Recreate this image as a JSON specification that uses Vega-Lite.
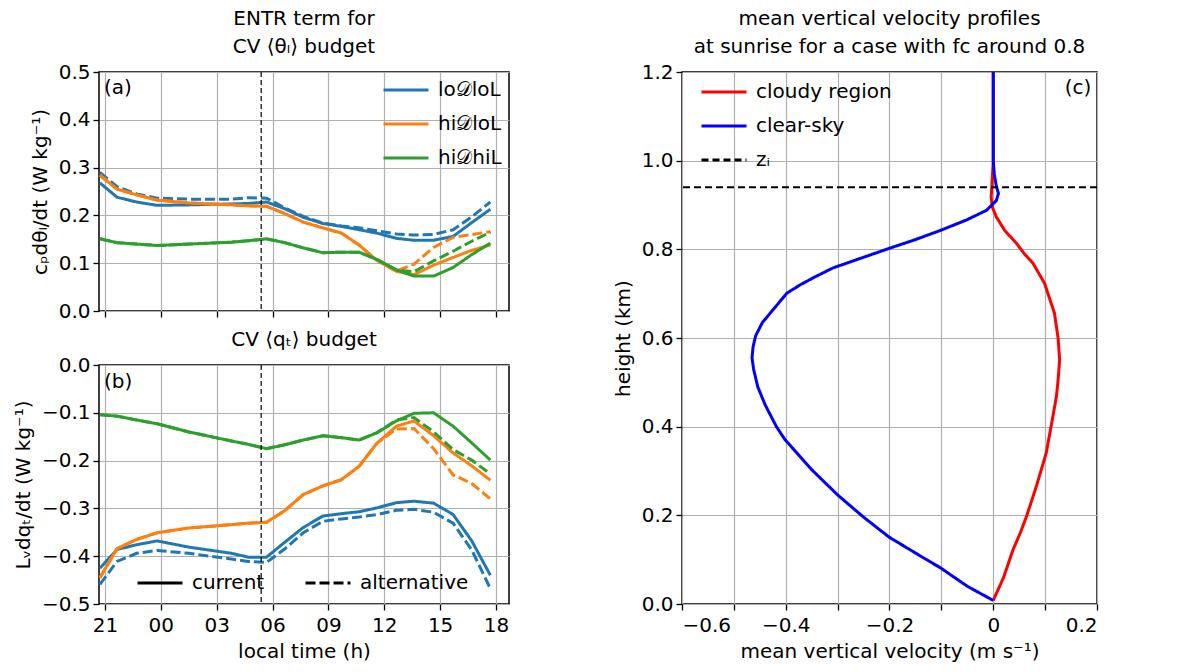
{
  "$schema": "https://vega.github.io/schema/vega-lite/v6.json",
  "padding": {"left": 12, "top": 8, "right": 5, "bottom": 5},
  "config": {
    "font": "DejaVu Sans",
    "view": {"stroke": "black", "strokeWidth": 1.5},
    "axis": {
      "domain": false,
      "tickColor": "black", "tickSize": 6, "tickWidth": 1.3,
      "labelFont": "DejaVu Sans", "labelFontSize": 20, "labelColor": "black",
      "titleFont": "DejaVu Sans", "titleFontSize": 20, "titleFontWeight": "normal", "titleColor": "black",
      "gridColor": "#b0b0b0", "gridWidth": 1.2, "labelPadding": 3
    },
    "legend": {"labelFont": "DejaVu Sans", "labelFontSize": 20, "labelColor": "black", "padding": 0},
    "title": {"font": "DejaVu Sans", "fontSize": 20, "fontWeight": "normal", "color": "black", "anchor": "middle", "offset": 5, "lineHeight": 28}
  },
  "datasets": {
    "ab": [
      {"p":"a","r":"lo𝒟loL","m":"current","t":-3.27,"v":0.268},{"p":"a","r":"lo𝒟loL","m":"current","t":-2.35,"v":0.238},{"p":"a","r":"lo𝒟loL","m":"current","t":-1.3,"v":0.228},{"p":"a","r":"lo𝒟loL","m":"current","t":-0.2,"v":0.221},{"p":"a","r":"lo𝒟loL","m":"current","t":1.5,"v":0.222},{"p":"a","r":"lo𝒟loL","m":"current","t":3.8,"v":0.224},{"p":"a","r":"lo𝒟loL","m":"current","t":4.7,"v":0.225},{"p":"a","r":"lo𝒟loL","m":"current","t":5.68,"v":0.228},{"p":"a","r":"lo𝒟loL","m":"current","t":6.65,"v":0.214},{"p":"a","r":"lo𝒟loL","m":"current","t":7.65,"v":0.196},{"p":"a","r":"lo𝒟loL","m":"current","t":8.7,"v":0.183},{"p":"a","r":"lo𝒟loL","m":"current","t":9.7,"v":0.177},{"p":"a","r":"lo𝒟loL","m":"current","t":10.65,"v":0.170},{"p":"a","r":"lo𝒟loL","m":"current","t":11.6,"v":0.163},{"p":"a","r":"lo𝒟loL","m":"current","t":12.65,"v":0.152},{"p":"a","r":"lo𝒟loL","m":"current","t":13.6,"v":0.148},{"p":"a","r":"lo𝒟loL","m":"current","t":14.65,"v":0.148},{"p":"a","r":"lo𝒟loL","m":"current","t":15.7,"v":0.156},{"p":"a","r":"lo𝒟loL","m":"current","t":16.7,"v":0.185},{"p":"a","r":"lo𝒟loL","m":"current","t":17.7,"v":0.213},
      {"p":"a","r":"lo𝒟loL","m":"alternative","t":-3.27,"v":0.290},{"p":"a","r":"lo𝒟loL","m":"alternative","t":-2.35,"v":0.260},{"p":"a","r":"lo𝒟loL","m":"alternative","t":-1.3,"v":0.245},{"p":"a","r":"lo𝒟loL","m":"alternative","t":-0.2,"v":0.236},{"p":"a","r":"lo𝒟loL","m":"alternative","t":1.5,"v":0.234},{"p":"a","r":"lo𝒟loL","m":"alternative","t":3.8,"v":0.234},{"p":"a","r":"lo𝒟loL","m":"alternative","t":4.7,"v":0.237},{"p":"a","r":"lo𝒟loL","m":"alternative","t":5.68,"v":0.236},{"p":"a","r":"lo𝒟loL","m":"alternative","t":6.65,"v":0.216},{"p":"a","r":"lo𝒟loL","m":"alternative","t":7.65,"v":0.198},{"p":"a","r":"lo𝒟loL","m":"alternative","t":8.7,"v":0.184},{"p":"a","r":"lo𝒟loL","m":"alternative","t":9.7,"v":0.178},{"p":"a","r":"lo𝒟loL","m":"alternative","t":10.65,"v":0.174},{"p":"a","r":"lo𝒟loL","m":"alternative","t":11.6,"v":0.168},{"p":"a","r":"lo𝒟loL","m":"alternative","t":12.65,"v":0.161},{"p":"a","r":"lo𝒟loL","m":"alternative","t":13.6,"v":0.159},{"p":"a","r":"lo𝒟loL","m":"alternative","t":14.65,"v":0.160},{"p":"a","r":"lo𝒟loL","m":"alternative","t":15.7,"v":0.170},{"p":"a","r":"lo𝒟loL","m":"alternative","t":16.7,"v":0.197},{"p":"a","r":"lo𝒟loL","m":"alternative","t":17.7,"v":0.228},
      {"p":"a","r":"hi𝒟loL","m":"current","t":-3.27,"v":0.284},{"p":"a","r":"hi𝒟loL","m":"current","t":-2.35,"v":0.255},{"p":"a","r":"hi𝒟loL","m":"current","t":-1.3,"v":0.243},{"p":"a","r":"hi𝒟loL","m":"current","t":-0.2,"v":0.232},{"p":"a","r":"hi𝒟loL","m":"current","t":1.5,"v":0.226},{"p":"a","r":"hi𝒟loL","m":"current","t":3.8,"v":0.222},{"p":"a","r":"hi𝒟loL","m":"current","t":4.7,"v":0.220},{"p":"a","r":"hi𝒟loL","m":"current","t":5.68,"v":0.219},{"p":"a","r":"hi𝒟loL","m":"current","t":6.65,"v":0.204},{"p":"a","r":"hi𝒟loL","m":"current","t":7.65,"v":0.186},{"p":"a","r":"hi𝒟loL","m":"current","t":8.7,"v":0.174},{"p":"a","r":"hi𝒟loL","m":"current","t":9.7,"v":0.163},{"p":"a","r":"hi𝒟loL","m":"current","t":10.65,"v":0.138},{"p":"a","r":"hi𝒟loL","m":"current","t":11.6,"v":0.106},{"p":"a","r":"hi𝒟loL","m":"current","t":12.65,"v":0.083},{"p":"a","r":"hi𝒟loL","m":"current","t":13.6,"v":0.076},{"p":"a","r":"hi𝒟loL","m":"current","t":14.65,"v":0.096},{"p":"a","r":"hi𝒟loL","m":"current","t":15.7,"v":0.112},{"p":"a","r":"hi𝒟loL","m":"current","t":16.7,"v":0.127},{"p":"a","r":"hi𝒟loL","m":"current","t":17.7,"v":0.138},
      {"p":"a","r":"hi𝒟loL","m":"alternative","t":-3.27,"v":0.284},{"p":"a","r":"hi𝒟loL","m":"alternative","t":-2.35,"v":0.255},{"p":"a","r":"hi𝒟loL","m":"alternative","t":-1.3,"v":0.243},{"p":"a","r":"hi𝒟loL","m":"alternative","t":-0.2,"v":0.232},{"p":"a","r":"hi𝒟loL","m":"alternative","t":1.5,"v":0.226},{"p":"a","r":"hi𝒟loL","m":"alternative","t":3.8,"v":0.222},{"p":"a","r":"hi𝒟loL","m":"alternative","t":4.7,"v":0.220},{"p":"a","r":"hi𝒟loL","m":"alternative","t":5.68,"v":0.219},{"p":"a","r":"hi𝒟loL","m":"alternative","t":6.65,"v":0.204},{"p":"a","r":"hi𝒟loL","m":"alternative","t":7.65,"v":0.186},{"p":"a","r":"hi𝒟loL","m":"alternative","t":8.7,"v":0.174},{"p":"a","r":"hi𝒟loL","m":"alternative","t":9.7,"v":0.163},{"p":"a","r":"hi𝒟loL","m":"alternative","t":10.65,"v":0.138},{"p":"a","r":"hi𝒟loL","m":"alternative","t":11.6,"v":0.106},{"p":"a","r":"hi𝒟loL","m":"alternative","t":12.65,"v":0.084},{"p":"a","r":"hi𝒟loL","m":"alternative","t":13.6,"v":0.098},{"p":"a","r":"hi𝒟loL","m":"alternative","t":14.65,"v":0.133},{"p":"a","r":"hi𝒟loL","m":"alternative","t":15.7,"v":0.154},{"p":"a","r":"hi𝒟loL","m":"alternative","t":16.7,"v":0.160},{"p":"a","r":"hi𝒟loL","m":"alternative","t":17.7,"v":0.166},
      {"p":"a","r":"hi𝒟hiL","m":"current","t":-3.27,"v":0.151},{"p":"a","r":"hi𝒟hiL","m":"current","t":-2.35,"v":0.143},{"p":"a","r":"hi𝒟hiL","m":"current","t":-1.3,"v":0.140},{"p":"a","r":"hi𝒟hiL","m":"current","t":-0.2,"v":0.137},{"p":"a","r":"hi𝒟hiL","m":"current","t":1.5,"v":0.140},{"p":"a","r":"hi𝒟hiL","m":"current","t":3.8,"v":0.144},{"p":"a","r":"hi𝒟hiL","m":"current","t":4.7,"v":0.147},{"p":"a","r":"hi𝒟hiL","m":"current","t":5.68,"v":0.151},{"p":"a","r":"hi𝒟hiL","m":"current","t":6.65,"v":0.143},{"p":"a","r":"hi𝒟hiL","m":"current","t":7.65,"v":0.132},{"p":"a","r":"hi𝒟hiL","m":"current","t":8.7,"v":0.122},{"p":"a","r":"hi𝒟hiL","m":"current","t":9.7,"v":0.123},{"p":"a","r":"hi𝒟hiL","m":"current","t":10.65,"v":0.123},{"p":"a","r":"hi𝒟hiL","m":"current","t":11.6,"v":0.108},{"p":"a","r":"hi𝒟hiL","m":"current","t":12.65,"v":0.086},{"p":"a","r":"hi𝒟hiL","m":"current","t":13.6,"v":0.073},{"p":"a","r":"hi𝒟hiL","m":"current","t":14.65,"v":0.073},{"p":"a","r":"hi𝒟hiL","m":"current","t":15.7,"v":0.091},{"p":"a","r":"hi𝒟hiL","m":"current","t":16.7,"v":0.118},{"p":"a","r":"hi𝒟hiL","m":"current","t":17.7,"v":0.142},
      {"p":"a","r":"hi𝒟hiL","m":"alternative","t":-3.27,"v":0.151},{"p":"a","r":"hi𝒟hiL","m":"alternative","t":-2.35,"v":0.143},{"p":"a","r":"hi𝒟hiL","m":"alternative","t":-1.3,"v":0.140},{"p":"a","r":"hi𝒟hiL","m":"alternative","t":-0.2,"v":0.137},{"p":"a","r":"hi𝒟hiL","m":"alternative","t":1.5,"v":0.140},{"p":"a","r":"hi𝒟hiL","m":"alternative","t":3.8,"v":0.144},{"p":"a","r":"hi𝒟hiL","m":"alternative","t":4.7,"v":0.147},{"p":"a","r":"hi𝒟hiL","m":"alternative","t":5.68,"v":0.151},{"p":"a","r":"hi𝒟hiL","m":"alternative","t":6.65,"v":0.143},{"p":"a","r":"hi𝒟hiL","m":"alternative","t":7.65,"v":0.132},{"p":"a","r":"hi𝒟hiL","m":"alternative","t":8.7,"v":0.122},{"p":"a","r":"hi𝒟hiL","m":"alternative","t":9.7,"v":0.123},{"p":"a","r":"hi𝒟hiL","m":"alternative","t":10.65,"v":0.123},{"p":"a","r":"hi𝒟hiL","m":"alternative","t":11.6,"v":0.108},{"p":"a","r":"hi𝒟hiL","m":"alternative","t":12.65,"v":0.086},{"p":"a","r":"hi𝒟hiL","m":"alternative","t":13.6,"v":0.082},{"p":"a","r":"hi𝒟hiL","m":"alternative","t":14.65,"v":0.105},{"p":"a","r":"hi𝒟hiL","m":"alternative","t":15.7,"v":0.125},{"p":"a","r":"hi𝒟hiL","m":"alternative","t":16.7,"v":0.146},{"p":"a","r":"hi𝒟hiL","m":"alternative","t":17.7,"v":0.165},
      {"p":"b","r":"lo𝒟loL","m":"current","t":-3.27,"v":-0.425},{"p":"b","r":"lo𝒟loL","m":"current","t":-2.35,"v":-0.386},{"p":"b","r":"lo𝒟loL","m":"current","t":-1.3,"v":-0.376},{"p":"b","r":"lo𝒟loL","m":"current","t":-0.2,"v":-0.368},{"p":"b","r":"lo𝒟loL","m":"current","t":1.5,"v":-0.381},{"p":"b","r":"lo𝒟loL","m":"current","t":3.8,"v":-0.394},{"p":"b","r":"lo𝒟loL","m":"current","t":4.7,"v":-0.402},{"p":"b","r":"lo𝒟loL","m":"current","t":5.68,"v":-0.402},{"p":"b","r":"lo𝒟loL","m":"current","t":6.65,"v":-0.371},{"p":"b","r":"lo𝒟loL","m":"current","t":7.65,"v":-0.340},{"p":"b","r":"lo𝒟loL","m":"current","t":8.7,"v":-0.316},{"p":"b","r":"lo𝒟loL","m":"current","t":9.7,"v":-0.311},{"p":"b","r":"lo𝒟loL","m":"current","t":10.65,"v":-0.307},{"p":"b","r":"lo𝒟loL","m":"current","t":11.6,"v":-0.299},{"p":"b","r":"lo𝒟loL","m":"current","t":12.65,"v":-0.288},{"p":"b","r":"lo𝒟loL","m":"current","t":13.6,"v":-0.285},{"p":"b","r":"lo𝒟loL","m":"current","t":14.65,"v":-0.289},{"p":"b","r":"lo𝒟loL","m":"current","t":15.7,"v":-0.313},{"p":"b","r":"lo𝒟loL","m":"current","t":16.7,"v":-0.368},{"p":"b","r":"lo𝒟loL","m":"current","t":17.7,"v":-0.440},
      {"p":"b","r":"lo𝒟loL","m":"alternative","t":-3.27,"v":-0.459},{"p":"b","r":"lo𝒟loL","m":"alternative","t":-2.35,"v":-0.411},{"p":"b","r":"lo𝒟loL","m":"alternative","t":-1.3,"v":-0.394},{"p":"b","r":"lo𝒟loL","m":"alternative","t":-0.2,"v":-0.388},{"p":"b","r":"lo𝒟loL","m":"alternative","t":1.5,"v":-0.394},{"p":"b","r":"lo𝒟loL","m":"alternative","t":3.8,"v":-0.406},{"p":"b","r":"lo𝒟loL","m":"alternative","t":4.7,"v":-0.411},{"p":"b","r":"lo𝒟loL","m":"alternative","t":5.68,"v":-0.413},{"p":"b","r":"lo𝒟loL","m":"alternative","t":6.65,"v":-0.385},{"p":"b","r":"lo𝒟loL","m":"alternative","t":7.65,"v":-0.351},{"p":"b","r":"lo𝒟loL","m":"alternative","t":8.7,"v":-0.327},{"p":"b","r":"lo𝒟loL","m":"alternative","t":9.7,"v":-0.322},{"p":"b","r":"lo𝒟loL","m":"alternative","t":10.65,"v":-0.318},{"p":"b","r":"lo𝒟loL","m":"alternative","t":11.6,"v":-0.313},{"p":"b","r":"lo𝒟loL","m":"alternative","t":12.65,"v":-0.304},{"p":"b","r":"lo𝒟loL","m":"alternative","t":13.6,"v":-0.302},{"p":"b","r":"lo𝒟loL","m":"alternative","t":14.65,"v":-0.308},{"p":"b","r":"lo𝒟loL","m":"alternative","t":15.7,"v":-0.331},{"p":"b","r":"lo𝒟loL","m":"alternative","t":16.7,"v":-0.387},{"p":"b","r":"lo𝒟loL","m":"alternative","t":17.7,"v":-0.468},
      {"p":"b","r":"hi𝒟loL","m":"current","t":-3.27,"v":-0.445},{"p":"b","r":"hi𝒟loL","m":"current","t":-2.35,"v":-0.384},{"p":"b","r":"hi𝒟loL","m":"current","t":-1.3,"v":-0.365},{"p":"b","r":"hi𝒟loL","m":"current","t":-0.2,"v":-0.351},{"p":"b","r":"hi𝒟loL","m":"current","t":1.5,"v":-0.341},{"p":"b","r":"hi𝒟loL","m":"current","t":3.8,"v":-0.334},{"p":"b","r":"hi𝒟loL","m":"current","t":4.7,"v":-0.331},{"p":"b","r":"hi𝒟loL","m":"current","t":5.68,"v":-0.329},{"p":"b","r":"hi𝒟loL","m":"current","t":6.65,"v":-0.305},{"p":"b","r":"hi𝒟loL","m":"current","t":7.65,"v":-0.271},{"p":"b","r":"hi𝒟loL","m":"current","t":8.7,"v":-0.253},{"p":"b","r":"hi𝒟loL","m":"current","t":9.7,"v":-0.240},{"p":"b","r":"hi𝒟loL","m":"current","t":10.65,"v":-0.212},{"p":"b","r":"hi𝒟loL","m":"current","t":11.6,"v":-0.164},{"p":"b","r":"hi𝒟loL","m":"current","t":12.65,"v":-0.128},{"p":"b","r":"hi𝒟loL","m":"current","t":13.6,"v":-0.117},{"p":"b","r":"hi𝒟loL","m":"current","t":14.65,"v":-0.148},{"p":"b","r":"hi𝒟loL","m":"current","t":15.7,"v":-0.184},{"p":"b","r":"hi𝒟loL","m":"current","t":16.7,"v":-0.211},{"p":"b","r":"hi𝒟loL","m":"current","t":17.7,"v":-0.241},
      {"p":"b","r":"hi𝒟loL","m":"alternative","t":-3.27,"v":-0.445},{"p":"b","r":"hi𝒟loL","m":"alternative","t":-2.35,"v":-0.384},{"p":"b","r":"hi𝒟loL","m":"alternative","t":-1.3,"v":-0.365},{"p":"b","r":"hi𝒟loL","m":"alternative","t":-0.2,"v":-0.351},{"p":"b","r":"hi𝒟loL","m":"alternative","t":1.5,"v":-0.341},{"p":"b","r":"hi𝒟loL","m":"alternative","t":3.8,"v":-0.334},{"p":"b","r":"hi𝒟loL","m":"alternative","t":4.7,"v":-0.331},{"p":"b","r":"hi𝒟loL","m":"alternative","t":5.68,"v":-0.329},{"p":"b","r":"hi𝒟loL","m":"alternative","t":6.65,"v":-0.305},{"p":"b","r":"hi𝒟loL","m":"alternative","t":7.65,"v":-0.271},{"p":"b","r":"hi𝒟loL","m":"alternative","t":8.7,"v":-0.253},{"p":"b","r":"hi𝒟loL","m":"alternative","t":9.7,"v":-0.240},{"p":"b","r":"hi𝒟loL","m":"alternative","t":10.65,"v":-0.212},{"p":"b","r":"hi𝒟loL","m":"alternative","t":11.6,"v":-0.164},{"p":"b","r":"hi𝒟loL","m":"alternative","t":12.65,"v":-0.134},{"p":"b","r":"hi𝒟loL","m":"alternative","t":13.6,"v":-0.133},{"p":"b","r":"hi𝒟loL","m":"alternative","t":14.65,"v":-0.175},{"p":"b","r":"hi𝒟loL","m":"alternative","t":15.7,"v":-0.230},{"p":"b","r":"hi𝒟loL","m":"alternative","t":16.7,"v":-0.248},{"p":"b","r":"hi𝒟loL","m":"alternative","t":17.7,"v":-0.280},
      {"p":"b","r":"hi𝒟hiL","m":"current","t":-3.27,"v":-0.104},{"p":"b","r":"hi𝒟hiL","m":"current","t":-2.35,"v":-0.107},{"p":"b","r":"hi𝒟hiL","m":"current","t":-1.3,"v":-0.115},{"p":"b","r":"hi𝒟hiL","m":"current","t":-0.2,"v":-0.123},{"p":"b","r":"hi𝒟hiL","m":"current","t":1.5,"v":-0.140},{"p":"b","r":"hi𝒟hiL","m":"current","t":3.8,"v":-0.159},{"p":"b","r":"hi𝒟hiL","m":"current","t":4.7,"v":-0.166},{"p":"b","r":"hi𝒟hiL","m":"current","t":5.68,"v":-0.175},{"p":"b","r":"hi𝒟hiL","m":"current","t":6.65,"v":-0.167},{"p":"b","r":"hi𝒟hiL","m":"current","t":7.65,"v":-0.157},{"p":"b","r":"hi𝒟hiL","m":"current","t":8.7,"v":-0.148},{"p":"b","r":"hi𝒟hiL","m":"current","t":9.7,"v":-0.152},{"p":"b","r":"hi𝒟hiL","m":"current","t":10.65,"v":-0.157},{"p":"b","r":"hi𝒟hiL","m":"current","t":11.6,"v":-0.142},{"p":"b","r":"hi𝒟hiL","m":"current","t":12.65,"v":-0.117},{"p":"b","r":"hi𝒟hiL","m":"current","t":13.6,"v":-0.101},{"p":"b","r":"hi𝒟hiL","m":"current","t":14.65,"v":-0.100},{"p":"b","r":"hi𝒟hiL","m":"current","t":15.7,"v":-0.128},{"p":"b","r":"hi𝒟hiL","m":"current","t":16.7,"v":-0.163},{"p":"b","r":"hi𝒟hiL","m":"current","t":17.7,"v":-0.199},
      {"p":"b","r":"hi𝒟hiL","m":"alternative","t":-3.27,"v":-0.104},{"p":"b","r":"hi𝒟hiL","m":"alternative","t":-2.35,"v":-0.107},{"p":"b","r":"hi𝒟hiL","m":"alternative","t":-1.3,"v":-0.115},{"p":"b","r":"hi𝒟hiL","m":"alternative","t":-0.2,"v":-0.123},{"p":"b","r":"hi𝒟hiL","m":"alternative","t":1.5,"v":-0.140},{"p":"b","r":"hi𝒟hiL","m":"alternative","t":3.8,"v":-0.159},{"p":"b","r":"hi𝒟hiL","m":"alternative","t":4.7,"v":-0.166},{"p":"b","r":"hi𝒟hiL","m":"alternative","t":5.68,"v":-0.175},{"p":"b","r":"hi𝒟hiL","m":"alternative","t":6.65,"v":-0.167},{"p":"b","r":"hi𝒟hiL","m":"alternative","t":7.65,"v":-0.157},{"p":"b","r":"hi𝒟hiL","m":"alternative","t":8.7,"v":-0.148},{"p":"b","r":"hi𝒟hiL","m":"alternative","t":9.7,"v":-0.152},{"p":"b","r":"hi𝒟hiL","m":"alternative","t":10.65,"v":-0.157},{"p":"b","r":"hi𝒟hiL","m":"alternative","t":11.6,"v":-0.142},{"p":"b","r":"hi𝒟hiL","m":"alternative","t":12.65,"v":-0.115},{"p":"b","r":"hi𝒟hiL","m":"alternative","t":13.6,"v":-0.110},{"p":"b","r":"hi𝒟hiL","m":"alternative","t":14.65,"v":-0.140},{"p":"b","r":"hi𝒟hiL","m":"alternative","t":15.7,"v":-0.177},{"p":"b","r":"hi𝒟hiL","m":"alternative","t":16.7,"v":-0.199},{"p":"b","r":"hi𝒟hiL","m":"alternative","t":17.7,"v":-0.228}
    ],
    "prof": [
      {"s":"cloudy region","w":0.000,"z":0.008},{"s":"cloudy region","w":0.020,"z":0.060},{"s":"cloudy region","w":0.038,"z":0.122},{"s":"cloudy region","w":0.052,"z":0.160},{"s":"cloudy region","w":0.064,"z":0.197},{"s":"cloudy region","w":0.083,"z":0.265},{"s":"cloudy region","w":0.102,"z":0.340},{"s":"cloudy region","w":0.115,"z":0.423},{"s":"cloudy region","w":0.122,"z":0.470},{"s":"cloudy region","w":0.125,"z":0.505},{"s":"cloudy region","w":0.128,"z":0.551},{"s":"cloudy region","w":0.125,"z":0.600},{"s":"cloudy region","w":0.118,"z":0.656},{"s":"cloudy region","w":0.099,"z":0.723},{"s":"cloudy region","w":0.077,"z":0.768},{"s":"cloudy region","w":0.060,"z":0.790},{"s":"cloudy region","w":0.045,"z":0.813},{"s":"cloudy region","w":0.022,"z":0.843},{"s":"cloudy region","w":0.006,"z":0.873},{"s":"cloudy region","w":-0.002,"z":0.896},{"s":"cloudy region","w":-0.004,"z":0.918},{"s":"cloudy region","w":-0.002,"z":0.956},{"s":"cloudy region","w":0.000,"z":1.000},{"s":"cloudy region","w":0.000,"z":1.200},
      {"s":"clear-sky","w":0.000,"z":0.008},{"s":"clear-sky","w":-0.050,"z":0.040},{"s":"clear-sky","w":-0.101,"z":0.081},{"s":"clear-sky","w":-0.150,"z":0.115},{"s":"clear-sky","w":-0.201,"z":0.151},{"s":"clear-sky","w":-0.250,"z":0.196},{"s":"clear-sky","w":-0.300,"z":0.246},{"s":"clear-sky","w":-0.350,"z":0.303},{"s":"clear-sky","w":-0.401,"z":0.370},{"s":"clear-sky","w":-0.418,"z":0.400},{"s":"clear-sky","w":-0.440,"z":0.450},{"s":"clear-sky","w":-0.454,"z":0.490},{"s":"clear-sky","w":-0.462,"z":0.530},{"s":"clear-sky","w":-0.465,"z":0.555},{"s":"clear-sky","w":-0.463,"z":0.580},{"s":"clear-sky","w":-0.458,"z":0.605},{"s":"clear-sky","w":-0.445,"z":0.635},{"s":"clear-sky","w":-0.425,"z":0.663},{"s":"clear-sky","w":-0.398,"z":0.701},{"s":"clear-sky","w":-0.372,"z":0.720},{"s":"clear-sky","w":-0.345,"z":0.737},{"s":"clear-sky","w":-0.309,"z":0.758},{"s":"clear-sky","w":-0.260,"z":0.778},{"s":"clear-sky","w":-0.201,"z":0.802},{"s":"clear-sky","w":-0.150,"z":0.822},{"s":"clear-sky","w":-0.101,"z":0.843},{"s":"clear-sky","w":-0.052,"z":0.866},{"s":"clear-sky","w":-0.013,"z":0.888},{"s":"clear-sky","w":0.006,"z":0.910},{"s":"clear-sky","w":0.010,"z":0.926},{"s":"clear-sky","w":0.006,"z":0.942},{"s":"clear-sky","w":0.002,"z":0.970},{"s":"clear-sky","w":0.000,"z":1.000},{"s":"clear-sky","w":0.000,"z":1.200}
    ],
    "zi": [{"s":"zᵢ","z":0.94}]
  },
  "resolve": {"scale": {"color": "independent", "strokeDash": "independent"}, "legend": {"color": "independent", "strokeDash": "independent"}},
  "spacing": 102,
  "hconcat": [
    {
      "bounds": "flush",
      "spacing": 54,
      "resolve": {"scale": {"color": "independent", "strokeDash": "independent"}, "legend": {"color": "independent", "strokeDash": "independent"}},
      "vconcat": [
        {
          "width": 410, "height": 239,
          "title": {"text": ["ENTR term for", "CV ⟨θₗ⟩ budget"]},
          "layer": [
            {
              "data": {"name": "ab"},
              "transform": [{"filter": "datum.p == 'a'"}],
              "mark": {"type": "line", "strokeWidth": 3},
              "encoding": {
                "x": {"field": "t", "type": "quantitative", "scale": {"domain": [-3.32, 18.7], "nice": false, "zero": false},
                      "axis": {"values": [-3, 0, 3, 6, 9, 12, 15, 18], "labels": false, "title": null}},
                "y": {"field": "v", "type": "quantitative", "scale": {"domain": [0, 0.5], "nice": false},
                      "axis": {"values": [0, 0.1, 0.2, 0.3, 0.4, 0.5], "format": ".1f", "title": "cₚdθₗ/dt (W kg⁻¹)", "titlePadding": 8}},
                "color": {"field": "r", "type": "nominal", "scale": {"domain": ["lo𝒟loL", "hi𝒟loL", "hi𝒟hiL"], "range": ["#1f77b4", "#ff7f0e", "#2ca02c"]},
                          "legend": {"title": null, "orient": "none", "legendX": 283, "legendY": -6, "symbolType": "stroke", "symbolSize": 2025, "symbolStrokeWidth": 3, "rowPadding": -7, "labelOffset": 8}},
                "strokeDash": {"field": "m", "type": "nominal", "scale": {"domain": ["current", "alternative"], "range": [[1, 0], [10, 4]]}, "legend": null}
              }
            },
            {
              "data": {"values": [{}]},
              "mark": {"type": "rule", "color": "black", "strokeWidth": 1.2, "strokeDash": [5, 3]},
              "encoding": {"x": {"datum": 5.39}}
            },
            {
              "data": {"values": [{}]},
              "mark": {"type": "text", "align": "left", "baseline": "middle", "fontSize": 20, "color": "black"},
              "encoding": {"x": {"datum": -3.05}, "y": {"datum": 0.467}, "text": {"value": "(a)"}}
            }
          ]
        },
        {
          "width": 410, "height": 239,
          "title": {"text": "CV ⟨qₜ⟩ budget"},
          "layer": [
            {
              "data": {"name": "ab"},
              "transform": [{"filter": "datum.p == 'b'"}],
              "mark": {"type": "line", "strokeWidth": 3},
              "encoding": {
                "x": {"field": "t", "type": "quantitative", "scale": {"domain": [-3.32, 18.7], "nice": false, "zero": false},
                      "axis": {"values": [-3, 0, 3, 6, 9, 12, 15, 18], "labelExpr": "datum.value < 0 ? format(datum.value + 24, '02d') : format(datum.value, '02d')", "title": "local time (h)", "titlePadding": 6, "labelPadding": 5}},
                "y": {"field": "v", "type": "quantitative", "scale": {"domain": [-0.5, 0], "nice": false},
                      "axis": {"values": [-0.5, -0.4, -0.3, -0.2, -0.1, 0], "format": ".1f", "title": "Lᵥdqₜ/dt (W kg⁻¹)", "titlePadding": 8}},
                "color": {"field": "r", "type": "nominal", "scale": {"domain": ["lo𝒟loL", "hi𝒟loL", "hi𝒟hiL"], "range": ["#1f77b4", "#ff7f0e", "#2ca02c"]}, "legend": null},
                "strokeDash": {"field": "m", "type": "nominal", "scale": {"domain": ["current", "alternative"], "range": [[1, 0], [10, 4]]},
                               "legend": {"title": null, "orient": "none", "legendX": 37, "legendY": 194, "direction": "horizontal", "symbolType": "stroke", "symbolSize": 2025, "symbolStrokeWidth": 3, "symbolStrokeColor": "black", "labelOffset": 8, "columnPadding": 34}}
              }
            },
            {
              "data": {"values": [{}]},
              "mark": {"type": "rule", "color": "black", "strokeWidth": 1.2, "strokeDash": [5, 3]},
              "encoding": {"x": {"datum": 5.39}}
            },
            {
              "data": {"values": [{}]},
              "mark": {"type": "text", "align": "left", "baseline": "middle", "fontSize": 20, "color": "black"},
              "encoding": {"x": {"datum": -3.05}, "y": {"datum": -0.036}, "text": {"value": "(b)"}}
            }
          ]
        }
      ]
    },
    {
      "width": 415, "height": 532,
      "title": {"text": ["mean vertical velocity profiles", "at sunrise for a case with fᴄ around 0.8"]},
      "layer": [
        {
          "data": {"name": "prof"},
          "mark": {"type": "line", "strokeWidth": 3},
          "encoding": {
            "x": {"field": "w", "type": "quantitative", "scale": {"domain": [-0.6, 0.2], "nice": false, "zero": false},
                  "axis": {"values": [-0.6, -0.5, -0.4, -0.3, -0.2, -0.1, 0, 0.1, 0.2], "labelExpr": "abs(round(datum.value * 10)) % 2 == 1 ? '' : (abs(datum.value) < 0.001 ? '0' : format(datum.value, '.1f'))", "title": "mean vertical velocity (m s⁻¹)", "titlePadding": 6, "labelPadding": 5}},
            "y": {"field": "z", "type": "quantitative", "scale": {"domain": [0, 1.2], "nice": false},
                  "axis": {"values": [0, 0.2, 0.4, 0.6, 0.8, 1.0, 1.2], "format": ".1f", "title": "height (km)", "titlePadding": 8}},
            "order": {"field": "z", "type": "quantitative"},
            "color": {"field": "s", "type": "nominal", "scale": {"domain": ["cloudy region", "clear-sky", "zᵢ"], "range": ["#ff0000", "#0000ff", "#000000"]},
                      "legend": {"title": null, "orient": "none", "legendX": 18, "legendY": -4, "symbolType": "stroke", "symbolSize": 2025, "symbolStrokeWidth": 3, "rowPadding": -9, "labelOffset": 8}},
            "strokeDash": {"field": "s", "type": "nominal", "scale": {"domain": ["cloudy region", "clear-sky", "zᵢ"], "range": [[1, 0], [1, 0], [7, 4]]},
                           "legend": {"title": null, "orient": "none", "legendX": 18, "legendY": -4, "symbolType": "stroke", "symbolSize": 2025, "symbolStrokeWidth": 3, "rowPadding": -9, "labelOffset": 8}}
          }
        },
        {
          "data": {"name": "zi"},
          "mark": {"type": "rule", "strokeWidth": 2},
          "encoding": {
            "y": {"field": "z", "type": "quantitative"},
            "color": {"field": "s", "type": "nominal"},
            "strokeDash": {"field": "s", "type": "nominal"}
          }
        },
        {
          "data": {"values": [{}]},
          "mark": {"type": "text", "align": "right", "baseline": "middle", "fontSize": 20, "color": "black"},
          "encoding": {"x": {"datum": 0.189}, "y": {"datum": 1.163}, "text": {"value": "(c)"}}
        }
      ]
    }
  ]
}
